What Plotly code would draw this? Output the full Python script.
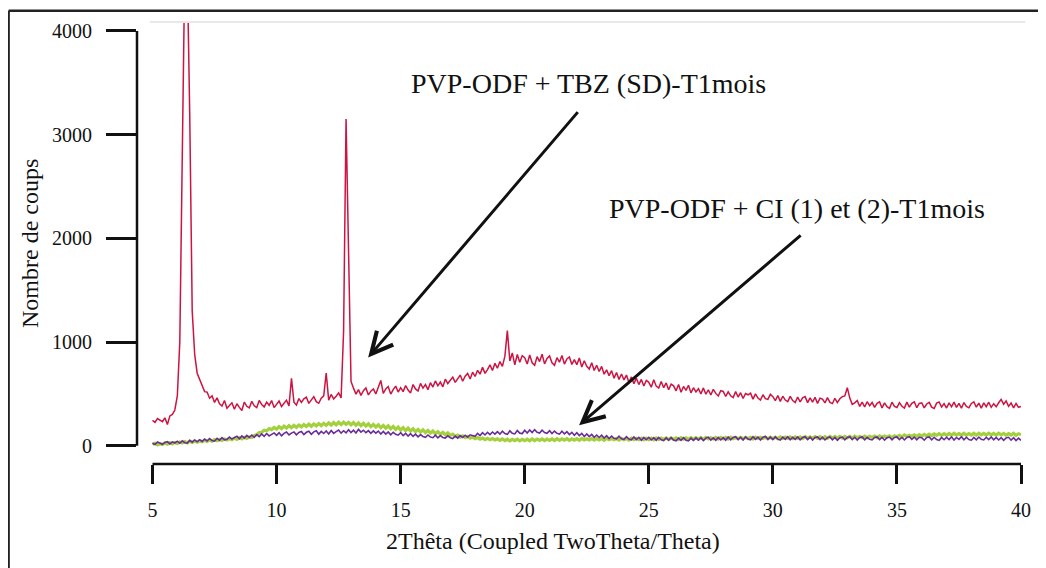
import plotly.graph_objects as go

# ---- data ----
theta_start = 5.0
theta_step = 0.1

red_counts = [
    245, 226, 262, 248, 232, 270, 205, 288, 302, 345,
    480, 1000, 2600, 4600, 4600, 3200, 1300, 880, 700, 640,
    585, 522, 518, 458, 482, 418, 462, 405, 384, 436,
    362, 391, 414, 352, 405, 370, 340, 422, 381, 365,
    428, 386, 369, 437, 398, 375, 421, 390, 436, 368,
    402, 431, 378, 413, 440, 384, 650, 421, 392, 455,
    418, 452, 468, 409, 441, 474, 425, 410, 458, 482,
    700, 440, 495, 452, 478, 510, 462, 1100, 3150, 2000,
    620, 556, 498, 542, 486, 531, 558, 490, 527, 548,
    500, 565, 630, 505, 548, 571, 498, 542, 575, 518,
    560, 522, 581, 538, 510, 590, 548, 528, 601, 556,
    590, 541, 608, 566, 625, 578, 614, 568, 642, 600,
    628, 662, 611, 648, 682, 622, 671, 698, 644, 710,
    668, 728, 690, 756, 698, 735, 780, 726, 795, 748,
    812, 765, 862, 1110, 818, 895, 780, 880, 806, 868,
    850, 788, 875, 800, 776, 860, 812, 882, 790, 842,
    866, 800, 776, 850, 806, 870, 788, 838, 856, 784,
    830, 782, 846, 760, 820, 766, 740, 800, 726, 776,
    716, 765, 690, 732, 676, 724, 652, 706, 640, 692,
    635, 682, 610, 664, 598, 652, 590, 640, 576, 630,
    612, 565, 636, 575, 556, 620, 560, 606, 540, 594,
    578, 530, 590, 516, 572, 535, 584, 510, 560, 520,
    550, 500, 558, 497, 540, 490, 544, 505, 480, 532,
    524, 475, 520, 482, 464, 522, 470, 512, 456, 504,
    492, 508, 450, 500, 460, 440, 492, 454, 447, 496,
    474, 436, 485, 428, 478, 441, 426, 476, 436, 416,
    470, 424, 463, 474, 416, 461, 421, 468, 409, 459,
    450, 413, 464, 419, 407, 458, 416, 453, 474, 480,
    560, 460, 400, 414, 436, 379, 421, 374, 425, 386,
    418, 370, 410, 423, 365, 414, 377, 361, 420, 380,
    369, 416, 381, 364, 421, 372, 410, 424, 367, 408,
    414, 366, 403, 419, 372, 360, 411, 423, 374, 406,
    364, 413, 376, 421, 370, 409, 362, 417, 379, 366,
    408, 423, 372, 411, 363, 414, 377, 420, 371, 406,
    376, 415, 448, 400, 433, 380, 413, 366, 408, 371,
    378,
]

purple_counts = [
    25, 12, 36, 22, 14, 33, 40, 18, 38, 27,
    44, 24, 47, 30, 26, 52, 35, 56, 38, 58,
    42, 64, 46, 70, 50, 44, 72, 52, 78, 57,
    62, 84, 65, 79, 92, 67, 95, 74, 100, 80,
    104, 82, 108, 88, 115, 92, 118, 95, 110, 124,
    100, 126, 96, 120, 132, 104, 122, 134, 106, 128,
    138, 108, 130, 140, 110, 134, 144, 112, 138, 118,
    142, 114, 148, 120, 136, 152, 122, 145, 124, 155,
    128, 150, 124, 158, 132, 150, 126, 146, 120, 144,
    122, 142, 114, 138, 112, 134, 106, 130, 110, 102,
    126, 98, 120, 94, 116, 90, 112, 86, 108, 90,
    82, 104, 84, 78, 102, 76, 98, 80, 74, 96,
    78, 70, 94, 74, 98, 80, 102, 82, 106, 99,
    92, 120, 98, 126, 104, 130, 108, 133, 112, 136,
    112, 140, 118, 110, 144, 120, 114, 147, 122, 118,
    150, 124, 153, 128, 156, 130, 122, 150, 128, 120,
    146, 118, 142, 120, 112, 140, 114, 136, 108, 130,
    102, 126, 98, 120, 90, 114, 88, 110, 82, 104,
    80, 102, 75, 98, 70, 94, 72, 66, 92, 68,
    62, 88, 64, 58, 86, 60, 82, 54, 80, 58,
    82, 56, 78, 52, 80, 58, 50, 76, 54, 78,
    56, 48, 74, 52, 78, 54, 47, 74, 52, 76,
    54, 78, 50, 74, 82, 54, 76, 52, 80, 56,
    78, 54, 84, 58, 80, 88, 60, 82, 56, 86,
    64, 58, 88, 62, 84, 56, 82, 90, 62, 84,
    60, 86, 64, 56, 84, 62, 88, 58, 82, 62,
    86, 58, 80, 88, 60, 84, 56, 80, 86, 60,
    82, 56, 78, 86, 58, 80, 52, 78, 84, 58,
    80, 88, 60, 82, 56, 80, 86, 58, 82, 62,
    56, 80, 86, 60, 82, 54, 78, 84, 58, 80,
    86, 60, 82, 56, 80, 88, 62, 84, 58, 82,
    78, 54, 80, 86, 58, 82, 60, 52, 80, 58,
    82, 60, 86, 56, 80, 62, 88, 58, 82, 60,
    54, 80, 58, 84, 62, 56, 82, 60, 86, 58,
    80, 56, 78, 52, 76, 82, 54, 78, 50, 74,
    52,
]

green_counts = [
    15, 24, 8, 20, 12, 28, 16, 30, 18, 32,
    22, 36, 26, 40, 28, 44, 32, 46, 34, 48,
    38, 52, 42, 56, 44, 60, 48, 62, 52, 66,
    56, 70, 58, 74, 62, 78, 66, 82, 70, 86,
    80, 100, 106, 128, 130, 150, 144, 166, 156, 176,
    160, 184, 166, 190, 170, 194, 174, 196, 178, 200,
    182, 204, 186, 208, 188, 210, 192, 214, 194, 216,
    196, 220, 200, 224, 202, 226, 204, 228, 206, 226,
    202, 224, 198, 220, 194, 216, 190, 212, 184, 206,
    180, 202, 174, 196, 170, 192, 164, 186, 158, 180,
    152, 176, 146, 170, 142, 164, 136, 158, 132, 154,
    126, 148, 122, 142, 116, 136, 112, 130, 106, 124,
    100, 112, 90, 102, 84, 96, 78, 90, 74, 86,
    68, 80, 64, 74, 60, 72, 58, 70, 56, 68,
    52, 66, 50, 64, 48, 62, 50, 64, 48, 62,
    50, 64, 48, 66, 50, 64, 52, 66, 50, 64,
    52, 66, 50, 68, 52, 66, 54, 68, 52, 66,
    54, 68, 52, 70, 56, 68, 56, 70, 54, 70,
    56, 70, 54, 72, 58, 70, 58, 72, 56, 72,
    58, 72, 56, 74, 60, 72, 60, 74, 58, 74,
    60, 74, 58, 76, 62, 74, 62, 76, 60, 76,
    62, 76, 60, 78, 64, 76, 64, 78, 62, 78,
    64, 78, 62, 80, 66, 78, 66, 80, 64, 80,
    66, 80, 64, 82, 68, 80, 68, 82, 66, 82,
    68, 82, 66, 84, 70, 82, 70, 84, 68, 84,
    70, 84, 68, 86, 72, 84, 72, 86, 70, 86,
    72, 86, 70, 88, 74, 86, 74, 88, 72, 88,
    74, 88, 72, 90, 76, 88, 76, 90, 74, 90,
    76, 90, 74, 92, 78, 90, 78, 92, 76, 92,
    80, 94, 78, 96, 82, 94, 82, 96, 80, 96,
    86, 100, 84, 104, 90, 102, 92, 106, 90, 108,
    94, 110, 96, 112, 98, 114, 100, 116, 100, 116,
    100, 118, 102, 120, 104, 118, 104, 120, 102, 118,
    104, 120, 102, 122, 106, 120, 104, 122, 106, 120,
    104, 122, 106, 120, 102, 118, 104, 120, 100, 116,
    108,
]

x_tick_vals = [5, 10, 15, 20, 25, 30, 35, 40]
y_tick_vals = [0, 1000, 2000, 3000, 4000]

label_tbz = "PVP-ODF + TBZ (SD)-T1mois"
label_ci = "PVP-ODF + CI (1) et (2)-T1mois"
x_title = "2Thêta (Coupled TwoTheta/Theta)"
y_title = "Nombre de coups"


def theta_grid(n):
    return [round(theta_start + theta_step * i, 2) for i in range(n)]


FONT = "Liberation Serif"
INK = "#111111"

fig = go.Figure()
fig.add_trace(go.Scatter(x=theta_grid(len(green_counts)), y=green_counts, mode="lines",
                         line=dict(color="#a3d03c", width=3.2), showlegend=False))
fig.add_trace(go.Scatter(x=theta_grid(len(purple_counts)), y=purple_counts, mode="lines",
                         line=dict(color="#6a2c98", width=1.6), showlegend=False))
fig.add_trace(go.Scatter(x=theta_grid(len(red_counts)), y=red_counts, mode="lines",
                         line=dict(color="#cc1442", width=1.5), showlegend=False))

W, H = 1046, 568
OFF = 8  # page body margin
ml, mt = 137 - OFF, 20 - OFF
mr = W - (1021 - OFF)
mb = H - (464 - OFF)
pw, ph = W - ml - mr, H - mt - mb

fig.update_layout(
    width=W, height=H, autosize=False,
    margin=dict(l=ml, r=mr, t=mt, b=mb, pad=0),
    paper_bgcolor="white", plot_bgcolor="white",
    font=dict(family=FONT, color=INK, size=20),
    xaxis=dict(range=[4.375, 40.0], tickvals=x_tick_vals, ticktext=[str(v) for v in x_tick_vals],
               ticks="outside", ticklen=19, tickwidth=2.5, tickcolor=INK,
               showline=False, showgrid=False, zeroline=False,
               tickfont=dict(family=FONT, size=20, color=INK), ticklabelstandoff=9),
    yaxis=dict(range=[-175.7, 4086.4], tickvals=y_tick_vals, ticktext=[str(v) for v in y_tick_vals],
               ticks="outside", ticklen=30, tickwidth=2.5, tickcolor=INK,
               showline=False, showgrid=False, zeroline=False,
               tickfont=dict(family=FONT, size=20, color=INK), ticklabelstandoff=10),
)


def px_x(p):
    return (p - OFF - ml) / pw


def px_y(p):
    return (H - mb - (p - OFF)) / ph


shapes = [
    dict(type="line", xref="paper", yref="y", x0=0, x1=0, y0=0, y1=4000,
         line=dict(color=INK, width=2.5)),
    dict(type="line", xref="x", yref="paper", x0=5, x1=40, y0=0, y1=0,
         line=dict(color=INK, width=2.5)),
    dict(type="line", xref="paper", yref="paper", x0=px_x(150), x1=px_x(1025), y0=1, y1=1,
         line=dict(color="#e8e8e8", width=2)),
    dict(type="line", xref="paper", yref="paper", x0=px_x(8.6), x1=px_x(8.6), y0=px_y(8.6), y1=px_y(580),
         line=dict(color="#222222", width=2.5)),
    dict(type="line", xref="paper", yref="paper", x0=px_x(8.6), x1=px_x(1060), y0=px_y(8.6), y1=px_y(8.6),
         line=dict(color="#222222", width=2.5)),
]
fig.update_layout(shapes=shapes)

annotations = [
    dict(text=label_tbz, x=22.59, y=3491, xref="x", yref="y", showarrow=False,
         font=dict(family=FONT, size=28, color=INK), xanchor="center", yanchor="middle"),
    dict(text=label_ci, x=30.98, y=2291, xref="x", yref="y", showarrow=False,
         font=dict(family=FONT, size=28, color=INK), xanchor="center", yanchor="middle"),
    dict(text="", x=13.69, y=851, ax=22.19, ay=3232, xref="x", yref="y", axref="x", ayref="y",
         showarrow=True, arrowhead=5, arrowsize=1.4, arrowwidth=3, arrowcolor=INK, standoff=0),
    dict(text="", x=22.19, y=199, ax=31.18, ay=2042, xref="x", yref="y", axref="x", ayref="y",
         showarrow=True, arrowhead=5, arrowsize=1.4, arrowwidth=3, arrowcolor=INK, standoff=0),
    dict(text=x_title, x=px_x(553), y=px_y(541), xref="paper", yref="paper", showarrow=False,
         font=dict(family=FONT, size=24, color=INK), xanchor="center", yanchor="middle"),
    dict(text=y_title, x=px_x(30), y=px_y(243), xref="paper", yref="paper", showarrow=False,
         textangle=-90, font=dict(family=FONT, size=24, color=INK),
         xanchor="center", yanchor="middle"),
]
fig.update_layout(annotations=annotations)

fig.write_html("out.html")
